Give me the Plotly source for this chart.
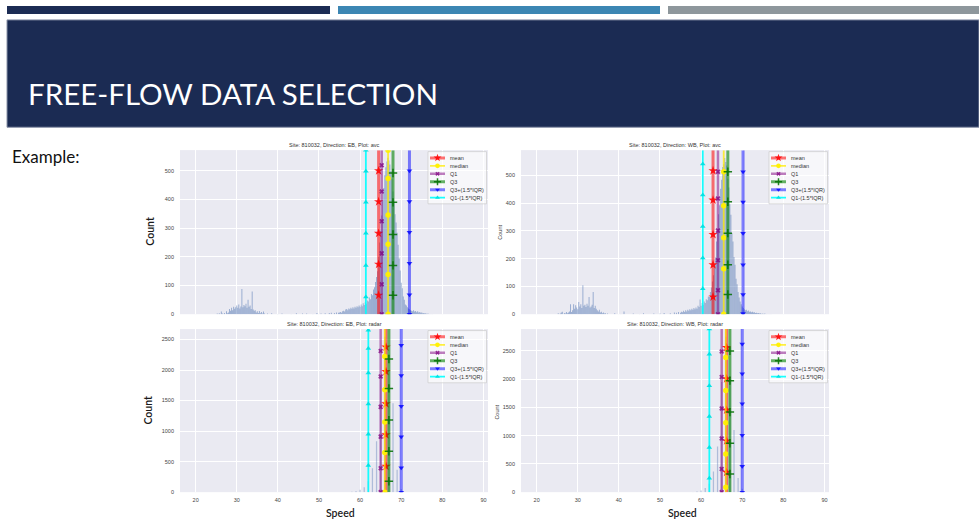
import numpy as np
import plotly.graph_objects as go

FIG_W, FIG_H = 979, 521

# ---------------- data ----------------
AVC_BIN = 0.25          # avc speeds are binned finely
RADAR_BAR_WIDTH = 0.3   # radar speeds are integers

# EB avc histogram
EB_AVC_LOW_FROM = 25.0
EB_AVC_LOW_COUNTS = [0, 2, 0, 3, 0, 9, 2, 0,
                     4, 0, 10, 3, 6, 18, 12, 22,
                     14, 26, 19, 24, 30, 22, 34, 20,
                     27, 88, 24, 32, 28, 36, 22, 50,
                     26, 30, 18, 79, 16, 12, 14, 6,
                     10, 4, 11, 3, 8, 2, 9, 2]
EB_AVC_MID_SPEEDS = [37.5, 38.5, 40.0, 41.0, 43.25, 44.5, 46.0, 47.0, 48.5,
                     49.5, 50.5, 51.5, 52.5, 53.0, 53.75, 54.25, 54.75]
EB_AVC_MID_COUNTS = [2, 3, 1, 2, 1, 3, 2, 2, 1, 4, 2, 3, 4, 5, 4, 6, 5]
EB_AVC_MAIN_FROM = 55.0
EB_AVC_MAIN_COUNTS = [6, 8, 5, 10, 12, 9, 16, 18,
                      14, 20, 17, 22, 19, 24, 20, 26,
                      22, 28, 24, 30, 26, 34, 28, 38,
                      32, 42, 36, 48, 44, 58, 52, 70,
                      66, 86, 94, 112, 130, 150, 200, 250,
                      290, 344, 396, 440, 484, 512, 532, 545,
                      536, 522, 498, 472, 428, 392, 348, 320,
                      284, 242, 194, 152, 110, 90, 62, 50,
                      34, 30, 24, 20, 17, 14, 12, 10,
                      14, 9, 11, 7, 10, 6, 8, 5,
                      6, 3, 4, 2, 3, 1, 2, 0,
                      1, 0, 1, 0]

# WB avc histogram
WB_AVC_LOW_FROM = 25.0
WB_AVC_LOW_COUNTS = [0, 3, 0, 2, 6, 9, 0, 4,
                     2, 8, 3, 6, 10, 36, 8, 14,
                     36, 20, 32, 24, 18, 44, 28, 36,
                     22, 104, 30, 34, 26, 38, 30, 62,
                     24, 28, 34, 80, 22, 30, 20, 14,
                     10, 16, 6, 9, 3, 6, 2, 3]
WB_AVC_MID_SPEEDS = [37.25, 39.0, 40.5, 41.25, 43.5, 45.0, 46.0, 48.5, 50.0,
                     51.0, 52.5, 53.5, 54.0, 54.5]
WB_AVC_MID_COUNTS = [2, 3, 1, 10, 2, 1, 3, 2, 2, 4, 3, 6, 5, 8]
WB_AVC_MAIN_FROM = 55.0
WB_AVC_MAIN_COUNTS = [5, 9, 7, 12, 8, 14, 10, 16,
                      12, 18, 14, 20, 16, 22, 18, 24,
                      20, 30, 26, 53, 30, 40, 34, 46,
                      40, 54, 50, 64, 62, 80, 96, 118,
                      140, 180, 204, 262, 296, 360, 392, 452,
                      484, 530, 540, 563, 548, 536, 488, 456,
                      396, 358, 292, 262, 206, 178, 128, 108,
                      80, 60, 46, 36, 28, 22, 18, 14,
                      16, 11, 13, 9, 10, 7, 9, 6,
                      7, 4, 5, 3, 4, 2, 3, 1,
                      2, 1, 2, 0, 1, 0, 1, 0,
                      1, 0, 0, 0]

# radar histograms (integer speeds)
RADAR_SPEEDS = [58, 59, 60, 61, 62, 63, 64, 65, 66, 67, 68, 69, 70]
EB_RADAR_COUNTS = [5, 15, 40, 80, 180, 390, 833, 1900, 2543, 2000, 1456, 368, 50]
WB_RADAR_COUNTS = [4, 10, 30, 75, 150, 365, 807, 1950, 2750, 2050, 1100, 251, 60]

STAT_NAMES = ["mean", "median", "Q1", "Q3", "Q3+(1.5*IQR)", "Q1-(1.5*IQR)"]
EB_AVC_STATS = [64.5, 66.8, 65.25, 68.0, 72.0, 61.4]
WB_AVC_STATS = [62.9, 65.5, 64.1, 66.5, 70.2, 60.4]
EB_RADAR_STATS = [66.3, 66.0, 65.0, 67.0, 70.0, 62.0]
WB_RADAR_STATS = [66.2, 66.0, 65.0, 67.0, 70.0, 62.0]

# count levels where each reference line carries a marker
EB_AVC_MARKS = [[66, 174, 282, 392, 500],
                [0, 138, 244, 346, 473, 572],
                [0, 104, 212, 324, 428, 519],
                [66, 170, 278, 390, 492],
                [0, 68, 178, 286, 393, 500],
                [60, 170, 282, 390, 498, 572]]
WB_AVC_MARKS = [[62, 178, 287, 411, 517],
                [0, 164, 275, 391, 513],
                [0, 86, 194, 301, 417, 513],
                [71, 178, 292, 405, 513],
                [2, 71, 178, 292, 404, 513],
                [92, 202, 316, 429, 541]]
EB_RADAR_MARKS = [[422, 938, 1446, 1974, 2375],
                  [0, 649, 1147, 1677, 2223],
                  [0, 390, 909, 1396, 1894, 2310],
                  [179, 670, 1180, 1699, 2180],
                  [0, 401, 909, 1407, 1910, 2407],
                  [438, 947, 1445, 1953, 2353, 2651]]
WB_RADAR_MARKS = [[351, 907, 1452, 2008, 2559],
                  [88, 673, 1230, 1797, 2383],
                  [0, 410, 948, 1481, 2037, 2488],
                  [322, 866, 1417, 1973, 2500],
                  [0, 457, 1007, 1563, 2096, 2623],
                  [246, 790, 1341, 1885, 2441, 2887]]

SPEED_TICKS = [20, 30, 40, 50, 60, 70, 80, 90]
X_RANGE = [16.2, 91.1]
Y_TOPS = [572, 591, 2670, 2886]
Y_STEPS = [100, 100, 500, 500]
TITLES = ["Site: 810032, Direction: EB, Plot: avc",
          "Site: 810032, Direction: WB, Plot: avc",
          "Site: 810032, Direction: EB, Plot: radar",
          "Site: 810032, Direction: WB, Plot: radar"]

# ---------------- styling ----------------
BG = "#eaeaf2"
BAR_COLOR_AVC = "rgba(76,114,176,0.55)"
BAR_COLOR_RADAR = "rgba(76,114,176,0.38)"
LINE_COLORS = ["rgba(255,0,0,0.55)", "rgba(255,235,0,0.75)", "rgba(128,0,128,0.5)",
               "rgba(0,128,0,0.6)", "rgba(0,0,255,0.5)", "rgba(0,255,255,0.9)"]
MARK_COLORS = ["rgba(255,0,0,0.85)", "rgba(255,240,0,0.95)", "rgba(128,0,128,0.75)",
               "rgba(0,110,0,0.85)", "rgba(0,0,255,0.8)", "rgba(0,225,225,0.95)"]
LINE_WIDTHS = [3, 1.8, 2.5, 3, 3, 1.8]
SYMBOLS = ["star", "circle", "x", "cross-thin", "triangle-down", "triangle-up"]
SIZES = [7, 5.5, 4.5, 6, 5, 5]
TICK_FONT = dict(family="Liberation Sans, Arial", size=5.5, color="#444")

# panel boxes in pixels: left, top, right, bottom
BOXES = [(180, 151, 488, 316), (521, 151, 829, 316),
         (180, 331, 488, 495), (521, 331, 829, 495)]


def fx(px):
    return px / FIG_W


def fy(py):
    return 1 - py / FIG_H


def avc_bars(low_from, low, mid_x, mid_y, main_from, main):
    xs = list(low_from + AVC_BIN * np.arange(len(low))) + list(mid_x) + \
        list(main_from + AVC_BIN * np.arange(len(main)))
    ys = list(low) + list(mid_y) + list(main)
    return xs, ys


def marker_style(k, scale=1.0):
    mk = dict(symbol=SYMBOLS[k], size=SIZES[k] * scale, color=MARK_COLORS[k])
    if SYMBOLS[k] == "cross-thin":
        mk["line"] = dict(color=MARK_COLORS[k], width=1.5)
    else:
        mk["line"] = dict(width=0)
    return mk


panels = []
x0, y0 = avc_bars(EB_AVC_LOW_FROM, EB_AVC_LOW_COUNTS, EB_AVC_MID_SPEEDS,
                  EB_AVC_MID_COUNTS, EB_AVC_MAIN_FROM, EB_AVC_MAIN_COUNTS)
panels.append(dict(bx=x0, by=y0, bw=AVC_BIN * 0.9, bc=BAR_COLOR_AVC,
                   stats=EB_AVC_STATS, marks=EB_AVC_MARKS))
x1, y1 = avc_bars(WB_AVC_LOW_FROM, WB_AVC_LOW_COUNTS, WB_AVC_MID_SPEEDS,
                  WB_AVC_MID_COUNTS, WB_AVC_MAIN_FROM, WB_AVC_MAIN_COUNTS)
panels.append(dict(bx=x1, by=y1, bw=AVC_BIN * 0.9, bc=BAR_COLOR_AVC,
                   stats=WB_AVC_STATS, marks=WB_AVC_MARKS))
panels.append(dict(bx=RADAR_SPEEDS, by=EB_RADAR_COUNTS, bw=RADAR_BAR_WIDTH,
                   bc=BAR_COLOR_RADAR, stats=EB_RADAR_STATS, marks=EB_RADAR_MARKS))
panels.append(dict(bx=RADAR_SPEEDS, by=WB_RADAR_COUNTS, bw=RADAR_BAR_WIDTH,
                   bc=BAR_COLOR_RADAR, stats=WB_RADAR_STATS, marks=WB_RADAR_MARKS))

fig = go.Figure()
shapes = []
annotations = []

for i, p in enumerate(panels):
    sfx = "" if i == 0 else str(i + 1)
    xa, ya = "x" + sfx, "y" + sfx
    left, top, right, bottom = BOXES[i]
    ytop = Y_TOPS[i]

    fig.add_trace(go.Bar(x=p["bx"], y=p["by"], width=p["bw"],
                         marker=dict(color=p["bc"], line=dict(width=0)),
                         xaxis=xa, yaxis=ya, showlegend=False, hoverinfo="skip"))

    for k in range(len(STAT_NAMES)):
        v = p["stats"][k]
        fig.add_trace(go.Scatter(x=[v, v], y=[0, ytop], mode="lines",
                                 line=dict(color=LINE_COLORS[k], width=LINE_WIDTHS[k]),
                                 xaxis=xa, yaxis=ya, showlegend=False, hoverinfo="skip"))
        ys = p["marks"][k]
        fig.add_trace(go.Scatter(x=[v] * len(ys), y=ys, mode="markers",
                                 marker=marker_style(k),
                                 xaxis=xa, yaxis=ya, showlegend=False, hoverinfo="skip"))

    # axes
    fig.update_layout({
        "xaxis" + sfx: dict(domain=[fx(left), fx(right)], anchor=ya, range=X_RANGE,
                            tickvals=SPEED_TICKS, showticklabels=i >= 2,
                            showgrid=True, gridcolor="white", gridwidth=1,
                            zeroline=False, showline=False, ticks="",
                            tickfont=TICK_FONT, ticklabelstandoff=3),
        "yaxis" + sfx: dict(domain=[fy(bottom), fy(top)], anchor=xa, range=[0, ytop],
                            dtick=Y_STEPS[i], showgrid=True, gridcolor="white",
                            gridwidth=1, zeroline=False, showline=False, ticks="",
                            tickfont=TICK_FONT, ticklabelstandoff=5),
    })

    # panel title
    annotations.append(dict(x=fx((left + right) / 2), y=fy(top - 5), xref="paper",
                            yref="paper", text=TITLES[i], showarrow=False,
                            xanchor="center", yanchor="middle",
                            font=dict(family="Liberation Sans, Arial", size=5.5,
                                      color="#333")))

    # legend box
    def to_data(px, py):
        xd = X_RANGE[0] + (px - left) / (right - left) * (X_RANGE[1] - X_RANGE[0])
        yd = (bottom - py) / (bottom - top) * ytop
        return xd, yd

    bl, bt = to_data(right - 60, top + 1.5)
    br, bb = to_data(right - 1.5, top + 54)
    shapes.append(dict(type="rect", xref=xa, yref=ya, x0=bl, x1=br, y0=bb, y1=bt,
                       layer="between", fillcolor="rgba(255,255,255,0.6)",
                       line=dict(color="#cccccc", width=0.7)))
    for k, name in enumerate(STAT_NAMES):
        row = top + 7.8 + 8 * k
        lx0, ly = to_data(right - 58, row)
        lx1, _ = to_data(right - 43, row)
        lxm, _ = to_data(right - 50.5, row)
        fig.add_trace(go.Scatter(x=[lx0, lx1], y=[ly, ly], mode="lines",
                                 line=dict(color=LINE_COLORS[k], width=LINE_WIDTHS[k]),
                                 xaxis=xa, yaxis=ya, showlegend=False, hoverinfo="skip"))
        fig.add_trace(go.Scatter(x=[lxm], y=[ly], mode="markers",
                                 marker=marker_style(k, 0.85),
                                 xaxis=xa, yaxis=ya, showlegend=False, hoverinfo="skip"))
        annotations.append(dict(x=fx(right - 40), y=fy(row), xref="paper", yref="paper",
                                text=name, showarrow=False, xanchor="left",
                                yanchor="middle",
                                font=dict(family="Liberation Sans, Arial", size=5.5,
                                          color="#333")))

# axis labels
LABEL_FONT = dict(family="Lato", size=10.5, color="#1a1a1a", weight=600)
annotations += [
    dict(x=fx(150), y=fy(233), text="Count", textangle=-90, font=LABEL_FONT),
    dict(x=fx(148), y=fy(413), text="Count", textangle=-90, font=LABEL_FONT),
    dict(x=fx(500), y=fy(233), text="Count", textangle=-90, font=TICK_FONT),
    dict(x=fx(497), y=fy(414), text="Count", textangle=-90, font=TICK_FONT),
    dict(x=fx(340), y=fy(516), text="Speed", font=LABEL_FONT),
    dict(x=fx(682), y=fy(516), text="Speed", font=LABEL_FONT),
]
for a in annotations[-6:]:
    a.update(xref="paper", yref="paper", showarrow=False,
             xanchor="center", yanchor="middle")

# slide header
shapes += [
    dict(type="rect", xref="paper", yref="paper", x0=fx(7), x1=fx(330), y0=fy(14),
         y1=fy(6), fillcolor="#1c2c54", line=dict(width=0), layer="below"),
    dict(type="rect", xref="paper", yref="paper", x0=fx(338), x1=fx(660), y0=fy(14),
         y1=fy(6), fillcolor="#3c86b3", line=dict(width=0), layer="below"),
    dict(type="rect", xref="paper", yref="paper", x0=fx(668), x1=fx(979), y0=fy(14),
         y1=fy(6), fillcolor="#8e979c", line=dict(width=0), layer="below"),
    dict(type="rect", xref="paper", yref="paper", x0=fx(7), x1=fx(979), y0=fy(128),
         y1=fy(20), fillcolor="#1b2b53", line=dict(color="#8a93a8", width=1),
         layer="below"),
]
annotations += [
    dict(x=fx(25.5), y=fy(94), xref="paper", yref="paper",
         text="FREE-FLOW DATA SELECTION",
         showarrow=False, xanchor="left", yanchor="middle",
         font=dict(family="Lato", size=29.5, color="white")),
    dict(x=fx(10), y=fy(157), xref="paper", yref="paper", text="Example:",
         showarrow=False, xanchor="left", yanchor="middle",
         font=dict(family="Lato", size=17, color="#111")),
]

fig.update_layout(width=FIG_W, height=FIG_H, margin=dict(l=0, r=0, t=0, b=0),
                  paper_bgcolor="white", plot_bgcolor=BG, barmode="overlay",
                  showlegend=False, shapes=shapes, annotations=annotations)

fig.write_html("out.html")
